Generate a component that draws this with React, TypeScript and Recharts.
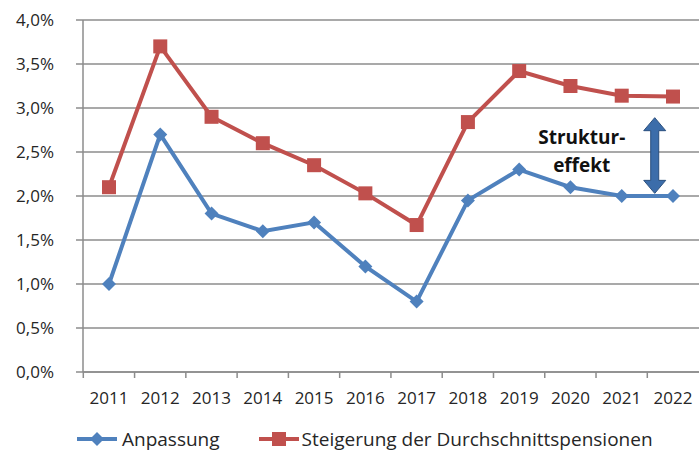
import React from "react";
import {
  LineChart,
  Line,
  XAxis,
  YAxis,
  CartesianGrid,
  Legend,
  ReferenceLine,
} from "recharts";

const YEARS = ["2011", "2012", "2013", "2014", "2015", "2016", "2017", "2018", "2019", "2020", "2021", "2022"];
const ANPASSUNG = [1.0, 2.7, 1.8, 1.6, 1.7, 1.2, 0.8, 1.95, 2.3, 2.1, 2.0, 2.0];
const STEIGERUNG = [2.1, 3.7, 2.9, 2.6, 2.35, 2.03, 1.67, 2.84, 3.42, 3.25, 3.14, 3.13];
const Y_TICKS = [0, 0.5, 1, 1.5, 2, 2.5, 3, 3.5, 4];

// annotation: gap between the two series in 2021/22
const ARROW_YEAR = "2021";
const ARROW_TOP = 2.89;
const ARROW_BOTTOM = 2.03;

const BLUE = "#4F81BD";
const RED = "#C0504D";
const GRID = "#8c8c8c";
const TEXT = "#262626";
const FONT = "'Open Sans', sans-serif";

const data = YEARS.map((year, i) => ({
  year,
  anpassung: ANPASSUNG[i],
  steigerung: STEIGERUNG[i],
}));

const fmt = (v: number) => v.toFixed(1).replace(".", ",") + "%";

const Diamond = (props: any) => {
  const { cx, cy } = props;
  if (cx == null || cy == null) return null;
  const r = 7;
  return (
    <path
      d={`M${cx},${cy - r} L${cx + r},${cy} L${cx},${cy + r} L${cx - r},${cy} Z`}
      fill={BLUE}
    />
  );
};

const Square = (props: any) => {
  const { cx, cy } = props;
  if (cx == null || cy == null) return null;
  return <rect x={cx - 7} y={cy - 7} width={14} height={14} fill={RED} />;
};

const XTick = (props: any) => {
  const { x, y, payload } = props;
  const half = 25.7;
  return (
    <g>
      <line x1={x - half} x2={x - half} y1={y - 8} y2={y - 2} stroke={GRID} strokeWidth={1.5} />
      <text x={x} y={y + 12} textAnchor="middle" fill={TEXT} fontSize={17} fontFamily={FONT} dy="0.71em">
        {payload.value}
      </text>
    </g>
  );
};

const ArrowShape = (props: any) => {
  const { x1, y1, y2 } = props;
  if (x1 == null) return null;
  const x = x1 + 33;
  const top = Math.min(y1, y2);
  const bot = Math.max(y1, y2);
  const hw = 11;
  const hh = 13;
  const sw = 4;
  const d = `M${x},${top} L${x + hw},${top + hh} L${x + sw},${top + hh} L${x + sw},${bot - hh} L${x + hw},${bot - hh} L${x},${bot} L${x - hw},${bot - hh} L${x - sw},${bot - hh} L${x - sw},${top + hh} L${x - hw},${top + hh} Z`;
  return (
    <g>
      <path d={d} fill="#3C6DAA" stroke="#2A4F7E" strokeWidth={1} />
      <text x={x - 73} y={top + 26} textAnchor="middle" fontWeight="bold" fontSize={19} fill="#111" fontFamily={FONT}>
        Struktur-
      </text>
      <text x={x - 73} y={top + 54} textAnchor="middle" fontWeight="bold" fontSize={19} fill="#111" fontFamily={FONT}>
        effekt
      </text>
    </g>
  );
};

const LegendContent = () => (
  <div
    style={{
      display: "flex",
      alignItems: "center",
      height: 24,
      fontFamily: FONT,
      fontSize: 19,
      color: TEXT,
      whiteSpace: "nowrap",
    }}
  >
    <svg width={45} height={24} style={{ marginLeft: 77 }}>
      <line x1={0} x2={40} y1={12} y2={12} stroke={BLUE} strokeWidth={4} />
      <path d="M20,5 L27,12 L20,19 L13,12 Z" fill={BLUE} />
    </svg>
    <span>Anpassung</span>
    <svg width={43} height={24} style={{ marginLeft: 39 }}>
      <line x1={0} x2={40} y1={12} y2={12} stroke={RED} strokeWidth={4} />
      <rect x={13} y={5} width={14} height={14} fill={RED} />
    </svg>
    <span>Steigerung der Durchschnittspensionen</span>
  </div>
);

export default function App() {
  return (
    <div style={{ position: "absolute", left: 0, top: 0, width: 699, height: 451, background: "#fff" }}>
      <LineChart
        width={699}
        height={451}
        data={data}
        margin={{ top: 20, right: 0, bottom: 25, left: 0 }}
      >
        <CartesianGrid vertical={false} stroke={GRID} strokeWidth={1.5} />
        <XAxis
          dataKey="year"
          height={30}
          padding={{ left: 26, right: 26 }}
          axisLine={{ stroke: GRID, strokeWidth: 1.5 }}
          tickLine={false}
          tick={<XTick />}
          interval={0}
        />
        <YAxis
          width={83}
          domain={[0, 4]}
          ticks={Y_TICKS}
          tickFormatter={fmt}
          axisLine={{ stroke: GRID, strokeWidth: 1.5 }}
          tickLine={{ stroke: GRID, strokeWidth: 1.5 }}
          tickSize={7}
          tickMargin={22}
          tick={{ fill: TEXT, fontSize: 17, fontFamily: FONT }}
        />
        <Legend
          verticalAlign="bottom"
          content={<LegendContent />}
          wrapperStyle={{ left: 0, width: 699, height: 24, bottom: 0 }}
        />
        <ReferenceLine
          segment={[
            { x: ARROW_YEAR, y: ARROW_TOP },
            { x: ARROW_YEAR, y: ARROW_BOTTOM },
          ]}
          shape={<ArrowShape />}
        />
        <Line
          dataKey="anpassung"
          stroke={BLUE}
          strokeWidth={4}
          dot={<Diamond />}
          activeDot={false}
          isAnimationActive={false}
        />
        <Line
          dataKey="steigerung"
          stroke={RED}
          strokeWidth={4}
          dot={<Square />}
          activeDot={false}
          isAnimationActive={false}
        />
      </LineChart>
    </div>
  );
}
